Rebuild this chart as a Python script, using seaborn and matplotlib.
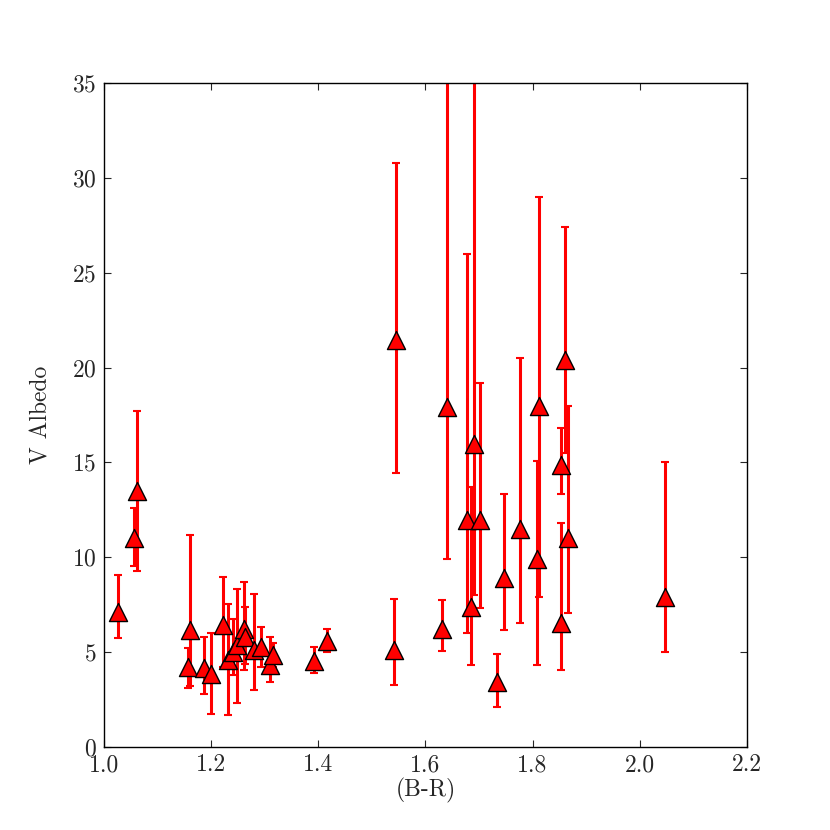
import seaborn as sns
import matplotlib.pyplot as plt
import pandas as pd
import numpy as np

# colour (B-R) and V albedo, with lower / upper ends of the error bars
br = [1.026, 1.056, 1.062, 1.157, 1.160, 1.187, 1.201, 1.222, 1.231, 1.241,
      1.248, 1.262, 1.264, 1.280, 1.294, 1.311, 1.315, 1.393, 1.417, 1.541,
      1.546, 1.631, 1.640, 1.678, 1.686, 1.690, 1.701, 1.734, 1.747, 1.776,
      1.808, 1.812, 1.853, 1.853, 1.861, 1.866, 2.047]
albedo = [7.1, 11.0, 13.5, 4.23, 6.17, 4.18, 3.85, 6.43, 4.59, 5.03,
          5.38, 6.2, 5.78, 5.11, 5.25, 4.32, 4.85, 4.55, 5.6, 5.11,
          21.43, 6.23, 17.92, 11.97, 7.4, 15.97, 11.97, 3.44, 8.89, 11.47,
          9.89, 17.98, 14.89, 6.52, 20.4, 11.0, 7.92]
albedo_lo = [5.75, 9.54, 9.28, 3.1, 3.2, 2.79, 1.76, 4.2, 1.71, 3.8,
             2.3, 4.06, 4.4, 3.03, 4.23, 3.44, 4.2, 3.92, 5.02, 3.29,
             14.44, 5.06, 9.92, 6.0, 4.32, 8.0, 7.31, 2.12, 6.19, 6.52,
             4.32, 7.92, 13.34, 4.06, 15.5, 7.05, 5.02]
albedo_hi = [9.07, 12.6, 17.7, 5.2, 11.2, 5.81, 6.03, 8.98, 7.52, 6.75,
             8.31, 8.68, 7.4, 8.06, 6.3, 5.81, 5.5, 5.29, 6.2, 7.79,
             30.8, 7.75, 40.0, 26.0, 13.69, 40.0, 19.2, 4.9, 13.31, 20.52,
             15.1, 29.0, 16.79, 11.82, 27.4, 17.98, 15.0]

df = pd.DataFrame({'br': br, 'albedo': albedo, 'lo': albedo_lo, 'hi': albedo_hi})
df['err_lo'] = df['albedo'] - df['lo']
df['err_hi'] = df['hi'] - df['albedo']

sns.set_style('ticks', {'xtick.direction': 'in', 'ytick.direction': 'in'})
plt.rcParams['font.family'] = 'cmr10'
plt.rcParams['axes.formatter.use_mathtext'] = True

fig, ax = plt.subplots(figsize=(8.3, 8.3), dpi=100)
fig.subplots_adjust(left=0.125, right=0.9, bottom=0.1, top=0.9)

ax.errorbar(df['br'], df['albedo'], yerr=[df['err_lo'], df['err_hi']], fmt='none',
            ecolor='red', elinewidth=2.2, capsize=3, capthick=1.5, zorder=2)
sns.scatterplot(x='br', y='albedo', data=df, marker='^', s=13 ** 2, color='red',
                edgecolor='black', linewidth=1, ax=ax, zorder=3)

ax.set_xlim(1.0, 2.2)
ax.set_ylim(0, 35)
ax.set_xticks(np.arange(1.0, 2.21, 0.2))
ax.set_yticks(np.arange(0, 36, 5))
ax.set_xticklabels(['%.1f' % v for v in np.arange(1.0, 2.21, 0.2)])
ax.tick_params(axis='both', which='both', top=True, right=True, length=5,
               width=0.8, labelsize=17, pad=5)
for sp in ax.spines.values():
    sp.set_linewidth(1)
    sp.set_color('black')
ax.set_xlabel('(B-R)', fontsize=17, labelpad=1)
ax.set_ylabel('V Albedo', fontsize=17, labelpad=14)

fig.savefig('out.png', dpi=100)
